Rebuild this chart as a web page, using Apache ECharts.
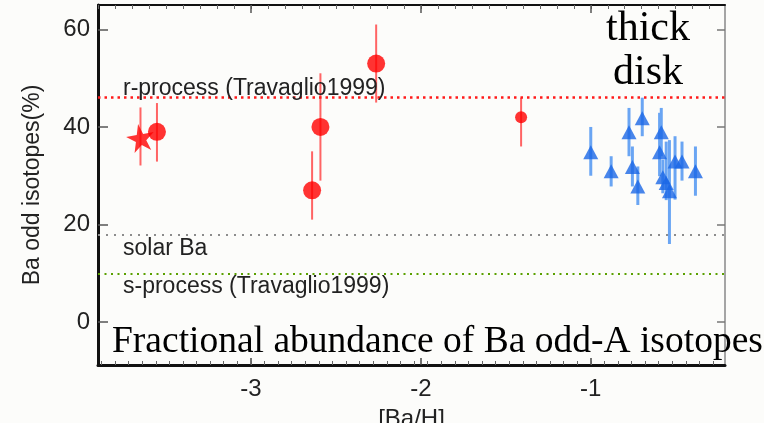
<!DOCTYPE html>
<html>
<head>
<meta charset="utf-8">
<script src="https://cdn.jsdelivr.net/npm/echarts@6/dist/echarts.min.js"></script>
<style>
  html, body { margin: 0; padding: 0; background: #fcfcfa; }
  #chart { width: 764px; height: 423px; }
</style>
</head>
<body>
<div id="chart"></div>
<script>
// ---- Data: Ba odd-isotope fractions versus [Ba/H] ----
// Halo stars (red): one star symbol, large circles, one small circle
const starX   = [-3.65];
const starY   = [37.8];
const starLo  = [32.1];
const starHi  = [44.0];

const haloX   = [-3.553, -2.64, -2.591, -2.263];
const haloY   = [39.0, 27.0, 40.0, 53.0];
const haloLo  = [32.9, 21.0, 29.0, 45.0];
const haloHi  = [44.9, 35.0, 51.0, 61.0];

const smallX  = [-1.41];
const smallY  = [42.0];
const smallLo = [36.0];
const smallHi = [46.0];

// Thick-disk stars (blue triangles)
const diskX  = [-1.00, -0.88, -0.775, -0.697, -0.755, -0.723, -0.585, -0.595, -0.576, -0.556, -0.537, -0.504, -0.463, -0.384];
const diskY  = [34.8, 30.9, 38.9, 41.8, 31.8, 27.8, 38.9, 34.8, 29.7, 28.5, 26.8, 32.9, 32.9, 30.9];
const diskLo = [30.0, 27.8, 34.0, 38.1, 27.8, 24.0, 34.0, 29.9, 26.4, 25.0, 16.0, 25.1, 29.0, 25.9];
const diskHi = [40.0, 34.0, 43.9, 46.0, 36.0, 31.9, 43.9, 42.9, 33.3, 37.0, 37.3, 38.1, 37.0, 36.0];

// Reference levels (%)
const rProcessLevel = 46;
const solarBaLevel  = 18;
const sProcessLevel = 10;

// Axis ticks
const xTickValues = [-3, -2, -1];
const yTickValues = [0, 20, 40, 60];
const xRange = [-3.9, -0.21];
const yRange = [-8.8, 65];

// minor tick positions along x
const topMinor = [];
for (let k = -39; k <= -2; k++) topMinor.push(k / 10);
const bottomMinor = [];
for (let k = -11; k <= 34; k++) {
  const v = -3 + k * 0.08;
  if (v > xRange[0] && v < xRange[1]) bottomMinor.push(+v.toFixed(3));
}

const zip2 = (xs, ys) => xs.map((x, i) => [x, ys[i]]);
const zip3 = (xs, lo, hi) => xs.map((x, i) => [x, lo[i], hi[i]]);

function errorBar(width) {
  return function (params, api) {
    const x = api.value(0);
    const p1 = api.coord([x, api.value(1)]);
    const p2 = api.coord([x, api.value(2)]);
    return {
      type: 'line',
      shape: { x1: p1[0], y1: p1[1], x2: p2[0], y2: p2[1] },
      style: { stroke: api.visual('color'), lineWidth: width }
    };
  };
}

const SANS = '"Liberation Sans", Arial, Helvetica, sans-serif';
const SERIF = '"Liberation Serif", "Times New Roman", serif';
const starPath = 'path://M50,0 L61,35 L98,35 L68,57 L79,91 L50,70 L21,91 L32,57 L2,35 L39,35 Z';

const chart = echarts.init(document.getElementById('chart'), null, { renderer: 'canvas' });

const option = {
  backgroundColor: '#fcfcfa',
  animation: false,
  grid: { left: 98, right: 39, top: 5, bottom: 58, containLabel: false, outerBoundsMode: 'none' },
  xAxis: [
    {
      type: 'value', min: xRange[0], max: xRange[1], position: 'bottom',
      axisLine: { show: true, onZero: false, lineStyle: { color: '#111', width: 3 } },
      axisTick: { show: true, inside: true, length: 7, customValues: xTickValues, lineStyle: { color: '#444', width: 1.5 } },
      axisLabel: { customValues: xTickValues, fontFamily: SANS, fontSize: 24, color: '#222', margin: 12,
                   formatter: v => String(v) },
      splitLine: { show: false },
      name: '[Ba/H]', nameLocation: 'middle', nameGap: 42,
      nameTextStyle: { fontFamily: SANS, fontSize: 24, color: '#222' }
    },
    {
      type: 'value', min: xRange[0], max: xRange[1], position: 'bottom',
      axisLine: { show: false, onZero: false },
      axisTick: { show: true, inside: true, length: 4, customValues: bottomMinor, lineStyle: { color: '#666', width: 1 } },
      axisLabel: { show: false }, splitLine: { show: false }
    },
    {
      type: 'value', min: xRange[0], max: xRange[1], position: 'top',
      axisLine: { show: true, onZero: false, lineStyle: { color: '#111', width: 2 } },
      axisTick: { show: true, inside: true, length: 4, customValues: topMinor, lineStyle: { color: '#666', width: 1 } },
      axisLabel: { show: false }, splitLine: { show: false }
    },
    {
      type: 'value', min: xRange[0], max: xRange[1], position: 'top',
      axisLine: { show: false, onZero: false },
      axisTick: { show: true, inside: true, length: 8, customValues: xTickValues, lineStyle: { color: '#555', width: 1.5 } },
      axisLabel: { show: false }, splitLine: { show: false }
    }
  ],
  yAxis: [
    {
      type: 'value', min: yRange[0], max: yRange[1], position: 'left',
      axisLine: { show: true, onZero: false, lineStyle: { color: '#111', width: 3 } },
      axisTick: { show: true, inside: true, length: 10, customValues: yTickValues, lineStyle: { color: '#555', width: 1.5 } },
      axisLabel: { customValues: yTickValues, fontFamily: SANS, fontSize: 24, color: '#222', margin: 8 },
      splitLine: { show: false },
      name: 'Ba odd isotopes(%)', nameLocation: 'middle', nameRotate: 90, nameGap: 54,
      nameTextStyle: { fontFamily: SANS, fontSize: 23, color: '#222' }
    },
    {
      type: 'value', min: yRange[0], max: yRange[1], position: 'right',
      axisLine: { show: true, onZero: false, lineStyle: { color: '#888', width: 1.5 } },
      axisTick: { show: true, inside: true, length: 8, customValues: yTickValues, lineStyle: { color: '#777', width: 1.5 } },
      axisLabel: { show: false }, splitLine: { show: false }
    }
  ],
  series: [
    {
      // reference abundance levels
      type: 'line', data: [], silent: true,
      markLine: {
        silent: true, symbol: 'none', animation: false,
        label: { show: false },
        data: [
          { yAxis: rProcessLevel, lineStyle: { color: '#ff1a1a', type: [2.5, 4], width: 2.5 } },
          { yAxis: solarBaLevel,  lineStyle: { color: '#8c8c8c', type: [2, 6], width: 2 } },
          { yAxis: sProcessLevel, lineStyle: { color: '#5aa000', type: [2, 4.5], width: 2 } }
        ]
      }
    },
    {
      type: 'custom', renderItem: errorBar(2), itemStyle: { color: '#ff6464' },
      encode: { x: 0, y: [1, 2] },
      data: zip3(starX, starLo, starHi).concat(zip3(haloX, haloLo, haloHi), zip3(smallX, smallLo, smallHi)),
      z: 2
    },
    {
      type: 'custom', renderItem: errorBar(3), itemStyle: { color: '#6aa5f3' },
      encode: { x: 0, y: [1, 2] },
      data: zip3(diskX, diskLo, diskHi),
      z: 2
    },
    {
      type: 'scatter', symbol: starPath, symbolSize: 28, symbolRotate: 10,
      itemStyle: { color: '#ff0000' }, data: zip2(starX, starY), z: 3
    },
    {
      type: 'scatter', symbol: 'circle', symbolSize: 18,
      itemStyle: { color: '#ff0000' }, data: zip2(haloX, haloY), z: 3
    },
    {
      type: 'scatter', symbol: 'circle', symbolSize: 12,
      itemStyle: { color: '#ff0000' }, data: zip2(smallX, smallY), z: 3
    },
    {
      type: 'scatter', symbol: 'triangle', symbolSize: [15, 14],
      itemStyle: { color: '#1a66e6' }, data: zip2(diskX, diskY), z: 3
    }
  ],
  graphic: [
    { type: 'text', left: 123, top: 77, z: 10,
      style: { text: 'r-process (Travaglio1999)', font: '23px ' + SANS, fill: '#222' } },
    { type: 'text', left: 123, top: 237, z: 10,
      style: { text: 'solar Ba', font: '23px ' + SANS, fill: '#222' } },
    { type: 'text', left: 123, top: 275, z: 10,
      style: { text: 's-process (Travaglio1999)', font: '23px ' + SANS, fill: '#222' } },
    { type: 'text', x: 648, y: 8, z: 10,
      style: { text: 'thick', font: '42px ' + SERIF, fill: '#000', textAlign: 'center' } },
    { type: 'text', x: 648, y: 52, z: 10,
      style: { text: 'disk', font: '42px ' + SERIF, fill: '#000', textAlign: 'center' } },
    { type: 'text', x: 112, y: 323, z: 10,
      style: { text: 'Fractional abundance of Ba odd-A isotopes', font: '37.5px ' + SERIF, fill: '#000' } }
  ]
};

chart.setOption(option);
</script>
</body>
</html>
